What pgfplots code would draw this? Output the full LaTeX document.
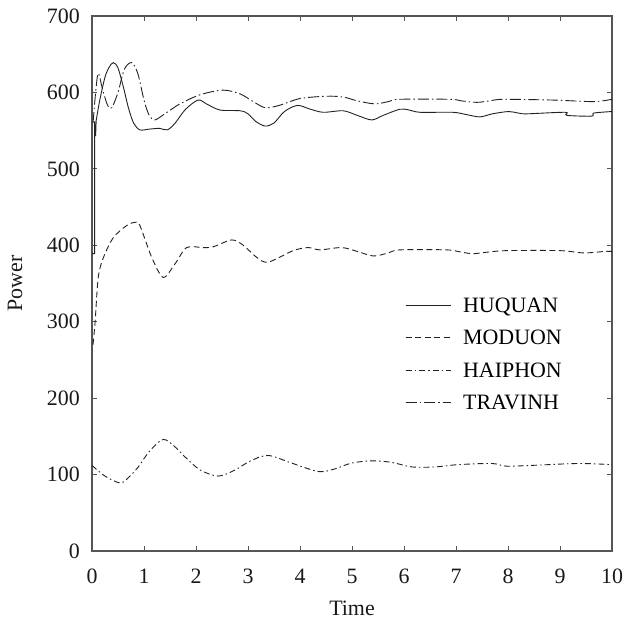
\documentclass[border=0pt]{standalone}
\usepackage{pgfplots}
\pgfplotsset{compat=1.18}
\usepackage{fontspec}
\setmainfont{Liberation Serif}
\definecolor{axgray}{HTML}{555555}
\definecolor{ln}{HTML}{222222}
\begin{document}
\begin{tikzpicture}
\begin{axis}[
  at={(0,0)}, anchor=south west,
  scale only axis=true,
  width=520bp, height=535bp,
  xmin=0, xmax=10, ymin=0, ymax=700,
  xtick={0,1,...,10}, ytick={0,100,...,700},
  tick align=inside,
  major tick length=5bp,
  axis line style={axgray, line width=1.2bp},
  tick style={axgray, line width=0.8bp},
  every tick label/.append style={font=\fontsize{22}{26}\selectfont, text=black!90},
  /pgf/number format/assume math mode=true,
  xticklabel style={anchor=base, yshift=-32bp},
  yticklabel style={anchor=east, inner sep=0pt, xshift=-12bp},
  xlabel={Time}, ylabel={Power},
  label style={font=\fontsize{22}{26}\selectfont, text=black!90},
  xlabel style={at={(axis description cs:0.5,0)}, anchor=base, yshift=-64bp},
  ylabel style={at={(axis description cs:0,0.5)}, anchor=center, yshift=77bp},
  legend style={at={(axis cs:6.02,332)}, anchor=north west, draw=none, fill=none,
    inner sep=0pt, font=\fontsize{22}{26}\selectfont, row sep=17.5bp, column sep=12bp,
    nodes={inner sep=0pt, text height=15bp, text depth=0bp}},
  legend cell align=left,
  legend image code/.code={\draw[#1] (0bp,0bp) -- (45bp,0bp);},
  every axis plot/.append style={ln, line width=0.9bp},
]
\addplot[solid, sharp plot, forget plot] coordinates {(0,389)(0.05,389)(0.05,562)(0.07,543)(0.08,563)};
\addplot[solid, smooth] coordinates {
(0.08,563)(0.15,590)(0.25,620)(0.33,633)(0.41,639)(0.5,632)(0.6,608)(0.7,580)(0.8,560)(0.92,551)(1.1,552)(1.3,553)(1.45,551)(1.6,560)(1.8,578)(2.04,590)(2.2,585)(2.46,577)(2.85,576)(3.0,572)(3.15,562)(3.33,556)(3.5,560)(3.7,575)(3.95,583)(4.2,578)(4.45,574)(4.83,576)(5.1,570)(5.38,564)(5.6,570)(5.92,578)(6.1,577)(6.31,574)(6.94,574)(7.2,571)(7.46,568)(7.7,572)(8.01,575)(8.2,573)(8.36,572)(9.1,574)(9.13,570)(9.61,569)(9.65,573)(10,575)};
\addlegendentry{HUQUAN}
\addplot[dash pattern=on 6bp off 3.5bp, smooth] coordinates {
(0.02,270)(0.06,300)(0.12,358)(0.22,384)(0.41,410)(0.67,426)(0.83,430)(0.92,426)(1.15,384)(1.37,358)(1.6,376)(1.82,397)(2.14,397)(2.33,398)(2.69,407)(2.91,400)(3.17,384)(3.39,378)(3.87,393)(4.16,397)(4.38,394)(4.8,397)(5.1,392)(5.41,386)(5.7,390)(5.92,394)(6.82,394)(7.1,391)(7.33,389)(7.6,391)(7.98,393)(9.0,393)(9.45,390)(9.87,392)(10,392)};
\addlegendentry{MODUON}
\addplot[dash pattern=on 6bp off 3bp on 1.5bp off 3bp, smooth] coordinates {
(0,112)(0.25,98)(0.54,89)(0.7,96)(0.89,110)(1.1,130)(1.37,146)(1.6,136)(1.79,123)(2.08,106)(2.43,98)(2.75,106)(3.05,118)(3.39,125)(3.84,115)(4.35,104)(4.65,107)(4.99,115)(5.38,118)(5.76,116)(6.15,110)(6.6,110)(7.04,113)(7.69,114.5)(7.96,111)(8.46,112)(9.35,114.5)(10,113)};
\addlegendentry{HAIPHON}
\addplot[dash pattern=on 11bp off 3bp on 1.5bp off 3bp, smooth] coordinates {
(0.02,560)(0.07,600)(0.12,625)(0.2,605)(0.3,583)(0.38,580)(0.5,600)(0.62,630)(0.76,639)(0.88,625)(1.0,590)(1.1,570)(1.21,564)(1.4,572)(1.69,585)(2.08,597)(2.52,603)(2.85,598)(3.1,588)(3.33,580)(3.6,583)(4.0,592)(4.51,595)(4.83,594)(5.1,589)(5.44,585)(5.7,588)(5.92,591)(6.88,591)(7.1,589)(7.4,587)(7.65,589)(7.91,591)(8.87,590)(9.64,588)(10,591)};
\addlegendentry{TRAVINH}
\end{axis}
\pgfresetboundingbox
\path (-92bp,-73bp) rectangle (533bp,551bp);
\end{tikzpicture}
\end{document}
